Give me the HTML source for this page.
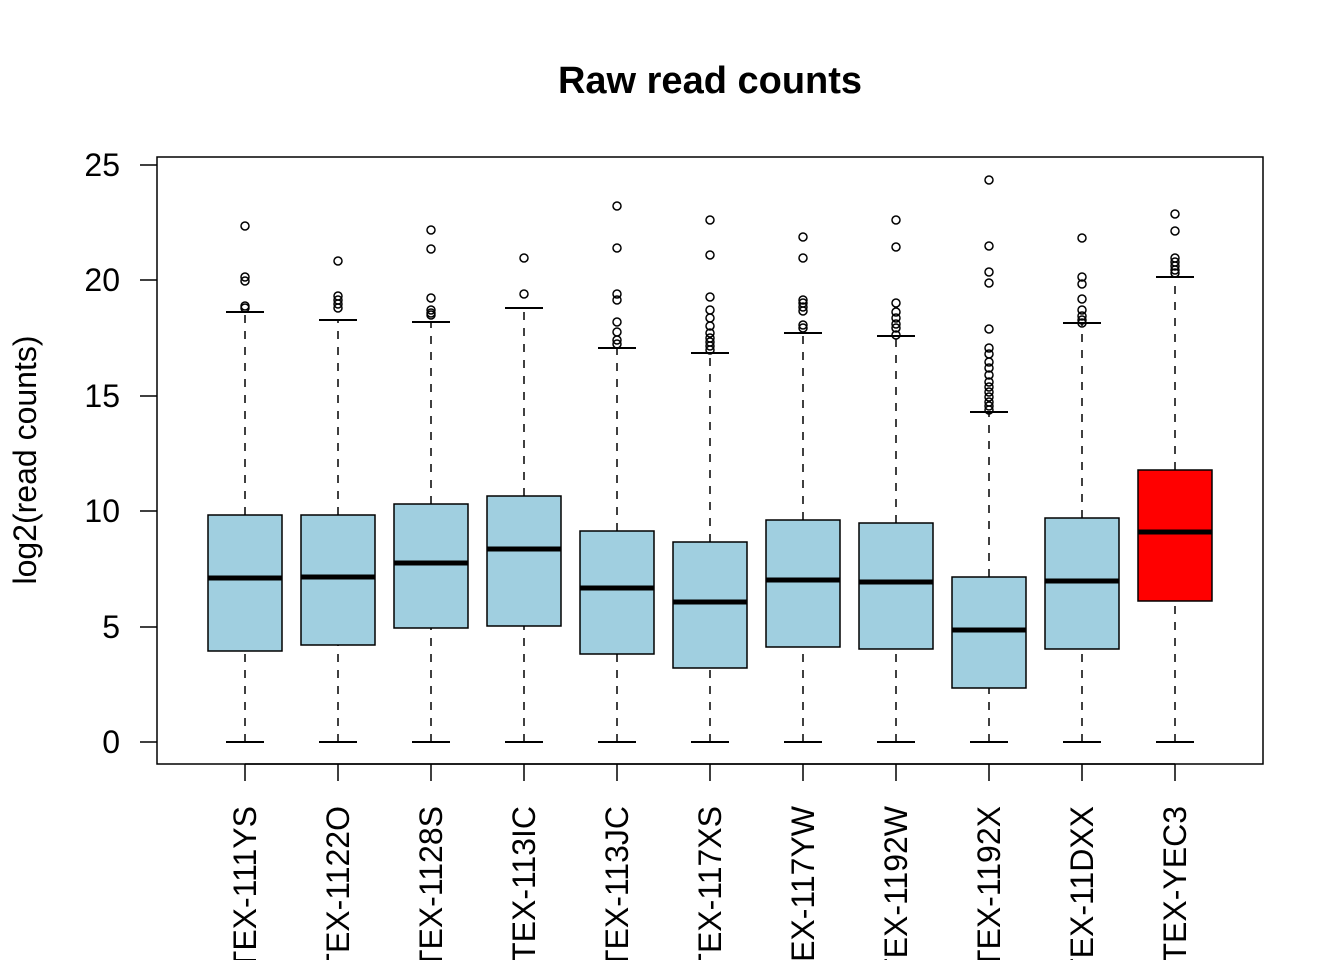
<!DOCTYPE html>
<html><head><meta charset="utf-8"><style>body{margin:0;background:#fff}svg{display:block}</style></head><body>
<svg width="1344" height="960" xmlns="http://www.w3.org/2000/svg" font-family="Liberation Sans, Arial, sans-serif">
<text x="710" y="93" font-size="38" font-weight="bold" text-anchor="middle">Raw read counts</text>
<rect x="157" y="157" width="1106" height="607" fill="none" stroke="#000" stroke-width="1.5"/>
<g stroke="#000" stroke-width="1.5">
<line x1="140" y1="742" x2="157" y2="742"/><line x1="140" y1="627" x2="157" y2="627"/><line x1="140" y1="511" x2="157" y2="511"/><line x1="140" y1="396" x2="157" y2="396"/><line x1="140" y1="280" x2="157" y2="280"/><line x1="140" y1="165" x2="157" y2="165"/>
<line x1="245" y1="764" x2="1175" y2="764"/>
</g>
<g font-size="32" text-anchor="end">
<text x="120" y="753">0</text><text x="120" y="638">5</text><text x="120" y="522">10</text><text x="120" y="407">15</text><text x="120" y="291">20</text><text x="120" y="176">25</text>
</g>
<text transform="translate(36,460) rotate(-90)" font-size="32" text-anchor="middle">log2(read counts)</text>

<g fill="none" stroke="#000" stroke-width="1.5">
<!-- box 1 -->
<g transform="translate(245,0)">
<path d="M0 742V651M0 515V312" stroke-dasharray="8,8"/>
<path d="M-19 742H19M-19 312H19" stroke-width="2"/>
<rect x="-37" y="515" width="74" height="136" fill="#a0cfe0"/>
<path d="M-37 578H37" stroke-width="5"/>
<circle cy="226" r="4"/><circle cy="277" r="4"/><circle cy="281" r="4"/><circle cy="306" r="4"/><circle cy="308" r="4"/>
<path d="M0 764V781"/>
</g>
<g transform="translate(338,0)">
<path d="M0 742V645M0 515V320" stroke-dasharray="8,8"/>
<path d="M-19 742H19M-19 320H19" stroke-width="2"/>
<rect x="-37" y="515" width="74" height="130" fill="#a0cfe0"/>
<path d="M-37 577H37" stroke-width="5"/>
<circle cy="261" r="4"/><circle cy="296" r="4"/><circle cy="300" r="4"/><circle cy="304" r="4"/><circle cy="308" r="4"/>
<path d="M0 764V781"/>
</g>
<g transform="translate(431,0)">
<path d="M0 742V628M0 504V322" stroke-dasharray="8,8"/>
<path d="M-19 742H19M-19 322H19" stroke-width="2"/>
<rect x="-37" y="504" width="74" height="124" fill="#a0cfe0"/>
<path d="M-37 563H37" stroke-width="5"/>
<circle cy="230" r="4"/><circle cy="249" r="4"/><circle cy="298" r="4"/><circle cy="310" r="4"/><circle cy="313" r="4"/><circle cy="315" r="4"/>
<path d="M0 764V781"/>
</g>
<g transform="translate(524,0)">
<path d="M0 742V626M0 496V308" stroke-dasharray="8,8"/>
<path d="M-19 742H19M-19 308H19" stroke-width="2"/>
<rect x="-37" y="496" width="74" height="130" fill="#a0cfe0"/>
<path d="M-37 549H37" stroke-width="5"/>
<circle cy="258" r="4"/><circle cy="294" r="4"/>
<path d="M0 764V781"/>
</g>
<g transform="translate(617,0)">
<path d="M0 742V654M0 531V348" stroke-dasharray="8,8"/>
<path d="M-19 742H19M-19 348H19" stroke-width="2"/>
<rect x="-37" y="531" width="74" height="123" fill="#a0cfe0"/>
<path d="M-37 588H37" stroke-width="5"/>
<circle cy="206" r="4"/><circle cy="248" r="4"/><circle cy="294" r="4"/><circle cy="300" r="4"/><circle cy="322" r="4"/><circle cy="332" r="4"/><circle cy="340" r="4"/><circle cy="344" r="4"/>
<path d="M0 764V781"/>
</g>
<g transform="translate(710,0)">
<path d="M0 742V668M0 542V353" stroke-dasharray="8,8"/>
<path d="M-19 742H19M-19 353H19" stroke-width="2"/>
<rect x="-37" y="542" width="74" height="126" fill="#a0cfe0"/>
<path d="M-37 602H37" stroke-width="5"/>
<circle cy="220" r="4"/><circle cy="255" r="4"/><circle cy="297" r="4"/><circle cy="310" r="4"/><circle cy="318" r="4"/><circle cy="326" r="4"/><circle cy="333" r="4"/><circle cy="338" r="4"/><circle cy="342" r="4"/><circle cy="346" r="4"/><circle cy="350" r="4"/>
<path d="M0 764V781"/>
</g>
<g transform="translate(803,0)">
<path d="M0 742V647M0 520V333" stroke-dasharray="8,8"/>
<path d="M-19 742H19M-19 333H19" stroke-width="2"/>
<rect x="-37" y="520" width="74" height="127" fill="#a0cfe0"/>
<path d="M-37 580H37" stroke-width="5"/>
<circle cy="237" r="4"/><circle cy="258" r="4"/><circle cy="300" r="4"/><circle cy="303" r="4"/><circle cy="307" r="4"/><circle cy="311" r="4"/><circle cy="325" r="4"/><circle cy="328" r="4"/>
<path d="M0 764V781"/>
</g>
<g transform="translate(896,0)">
<path d="M0 742V649M0 523V336" stroke-dasharray="8,8"/>
<path d="M-19 742H19M-19 336H19" stroke-width="2"/>
<rect x="-37" y="523" width="74" height="126" fill="#a0cfe0"/>
<path d="M-37 582H37" stroke-width="5"/>
<circle cy="220" r="4"/><circle cy="247" r="4"/><circle cy="303" r="4"/><circle cy="312" r="4"/><circle cy="318" r="4"/><circle cy="324" r="4"/><circle cy="328" r="4"/><circle cy="335" r="4"/>
<path d="M0 764V781"/>
</g>
<g transform="translate(989,0)">
<path d="M0 742V688M0 577V412" stroke-dasharray="8,8"/>
<path d="M-19 742H19M-19 412H19" stroke-width="2"/>
<rect x="-37" y="577" width="74" height="111" fill="#a0cfe0"/>
<path d="M-37 630H37" stroke-width="5"/>
<circle cy="180" r="4"/><circle cy="246" r="4"/><circle cy="272" r="4"/><circle cy="283" r="4"/><circle cy="329" r="4"/><circle cy="348" r="4"/><circle cy="354" r="4"/><circle cy="362" r="4"/><circle cy="368" r="4"/><circle cy="375" r="4"/><circle cy="382" r="4"/><circle cy="387" r="4"/><circle cy="392" r="4"/><circle cy="397" r="4"/><circle cy="402" r="4"/><circle cy="406" r="4"/><circle cy="410" r="4"/>
<path d="M0 764V781"/>
</g>
<g transform="translate(1082,0)">
<path d="M0 742V649M0 518V323" stroke-dasharray="8,8"/>
<path d="M-19 742H19M-19 323H19" stroke-width="2"/>
<rect x="-37" y="518" width="74" height="131" fill="#a0cfe0"/>
<path d="M-37 581H37" stroke-width="5"/>
<circle cy="238" r="4"/><circle cy="277" r="4"/><circle cy="284" r="4"/><circle cy="299" r="4"/><circle cy="310" r="4"/><circle cy="316" r="4"/><circle cy="320" r="4"/><circle cy="323" r="4"/>
<path d="M0 764V781"/>
</g>
<g transform="translate(1175,0)">
<path d="M0 742V601M0 470V277" stroke-dasharray="8,8"/>
<path d="M-19 742H19M-19 277H19" stroke-width="2"/>
<rect x="-37" y="470" width="74" height="131" fill="#ff0000"/>
<path d="M-37 532H37" stroke-width="5"/>
<circle cy="214" r="4"/><circle cy="231" r="4"/><circle cy="258" r="4"/><circle cy="262" r="4"/><circle cy="266" r="4"/><circle cy="270" r="4"/><circle cy="273" r="4"/>
<path d="M0 764V781"/>
</g>
</g>

<g font-size="32" text-anchor="end">
<text transform="translate(256,806) rotate(-90)">GTEX-111YS</text>
<text transform="translate(349,806) rotate(-90)">GTEX-1122O</text>
<text transform="translate(442,806) rotate(-90)">GTEX-1128S</text>
<text transform="translate(535,806) rotate(-90)">GTEX-113IC</text>
<text transform="translate(628,806) rotate(-90)">GTEX-113JC</text>
<text transform="translate(721,806) rotate(-90)">GTEX-117XS</text>
<text transform="translate(814,806) rotate(-90)">GTEX-117YW</text>
<text transform="translate(907,806) rotate(-90)">GTEX-1192W</text>
<text transform="translate(1000,806) rotate(-90)">GTEX-1192X</text>
<text transform="translate(1093,806) rotate(-90)">GTEX-11DXX</text>
<text transform="translate(1186,806) rotate(-90)">GTEX-YEC3</text>
</g>
</svg>
</body></html>
